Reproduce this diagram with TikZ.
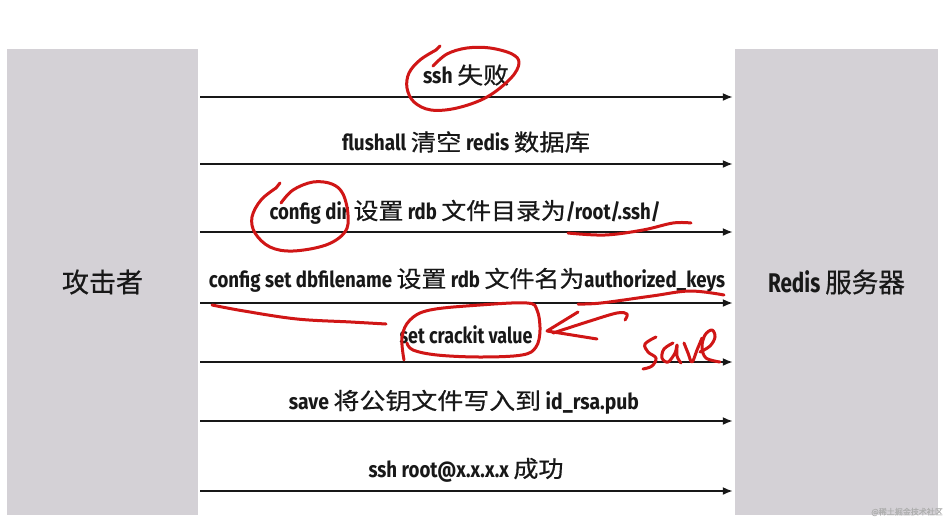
\documentclass[tikz,border=0pt]{standalone}
\usepackage{fontspec}
\usepackage{graphicx}
\setmainfont{Fira Sans}[FakeStretch=0.78]
\newfontfamily\cjk{Noto Sans CJK SC}[FakeBold=0.5]
\usetikzlibrary{arrows.meta}
\definecolor{boxgray}{RGB}{212,209,214}
\definecolor{annred}{RGB}{208,22,22}
\definecolor{inkblack}{RGB}{24,24,24}
\definecolor{wmgray}{RGB}{175,175,175}
\newcommand\zh[1]{{\cjk\mdseries\fontsize{23}{26}\selectfont #1}}
\newcommand\zhbig[1]{{\cjk\mdseries\fontsize{27}{30}\selectfont #1}}
\newcommand\fitw[2]{\resizebox{#1pt}{\height}{#2}}
\tikzset{
  side/.style={fill=boxgray,draw=none,inner sep=0pt,minimum height=466pt,text=inkblack},
  msg/.style={draw=inkblack,line width=1.8pt,-{Latex[length=10pt,width=8pt]},shorten <=2pt,shorten >=2pt},
  lbl/.style={inner sep=0pt,text=inkblack,font=\bfseries\fontsize{22}{26}\selectfont},
  ann/.style={draw=annred,line width=3pt,line cap=round,line join=round},
}
\begin{document}
\begin{tikzpicture}[x=1pt,y=-1pt]
\useasboundingbox (0,0) rectangle (952,520);
\fill[white] (0,0) rectangle (952,520);
% side boxes
\node[side,minimum width=191pt] (att) at (102.5,282) {\zhbig{攻击者}};
\node[side,minimum width=203pt] (srv) at (836.5,282) {\fitw{137}{{\bfseries\fontsize{27}{30}\selectfont Redis }\zhbig{服务器}}};
% message labels
\node[lbl] (l1) at (466,75)  {\fitw{86}{ssh \zh{失败}}};
\node[lbl] (l2) at (466,142) {\fitw{248}{flushall \zh{清空} redis \zh{数据库}}};
\node[lbl] (l3) at (465,212) {\fitw{391}{config dir \zh{设置} rdb \zh{文件目录为}/root/.ssh/}};
\node[lbl] (l4) at (467,280) {\fitw{516}{config set dbfilename \zh{设置} rdb \zh{文件名为}authorized\_keys}};
\node[lbl] (l5) at (466,335) {\fitw{133}{set crackit value}};
\node[lbl] (l6) at (464,402) {\fitw{350}{save \zh{将公钥文件写入到} id\_rsa.pub}};
\node[lbl] (l7) at (466,470) {\fitw{195}{ssh root@x.x.x.x \zh{成功}}};
% arrows
\draw[msg] (att.east |- 0,97)  -- (srv.west |- 0,97);
\draw[msg] (att.east |- 0,164) -- (srv.west |- 0,164);
\draw[msg] (att.east |- 0,232) -- (srv.west |- 0,232);
\draw[msg] (att.east |- 0,303) -- (srv.west |- 0,303);
\draw[msg] (att.east |- 0,362) -- (srv.west |- 0,362);
\draw[msg] (att.east |- 0,421) -- (srv.west |- 0,421);
\draw[msg] (att.east |- 0,491) -- (srv.west |- 0,491);
% watermark
\node[inner sep=0pt,text=wmgray,anchor=east] (wm) at (943,512) {{\cjk\fontsize{8}{9}\selectfont @稀土掘金技术社区}};
% red annotations
\draw[ann] plot[smooth,tension=0.6] coordinates {(436,50) (420,60) (409,73) (407,88) (414,102) (431,110) (457,108) (487,97) (511,78) (519,63) (512,54) (490,48) (467,48) (447,54) (433,66)};
\draw[ann] (436,50) -- (440,46);
\draw[ann] plot[smooth,tension=0.6] coordinates {(276,188) (261,200) (252,217) (255,233) (270,247) (293,251) (326,245) (345,232) (348,215) (343,194) (332,184) (313,182) (293,190) (281,203)};
\draw[ann] (276,188) -- (280,183);
\draw[ann] plot[smooth,tension=0.6] coordinates {(568,233) (605,235) (643,230) (673,223) (691,223)};
\draw[ann] plot[smooth,tension=0.6] coordinates {(212,305) (244,311) (297,319) (351,322) (386,324)};
\draw[ann] plot[smooth,tension=0.6] coordinates {(578,304) (601,303) (652,296) (690,291) (724,295)};
\draw[ann] plot[smooth,tension=0.6] coordinates {(404,360) (402,337) (410,320) (430,310) (480,305) (527,303) (537,310) (540,330) (536,347) (522,355) (480,357) (437,355) (413,350) (407,343)};
\draw[ann] (578,312) -- (547,331) -- (597,339);
\draw[ann] plot[smooth,tension=0.6] coordinates {(553,333) (590,321) (617,313) (627,314) (625,320)};
% handwritten "save"
\draw[ann] plot[smooth,tension=0.6] coordinates {(656,337) (645,344) (648,352) (656,358) (652,366) (643,369)};
\draw[ann] plot[smooth,tension=0.6] coordinates {(673,343) (664,349) (662,358) (668,362) (675,353) (677,345) (677,356) (681,363)};
\draw[ann] plot[smooth,tension=0.6] coordinates {(684,343) (688,353) (692,362) (697,350) (702,338)};
\draw[ann] plot[smooth,tension=0.6] coordinates {(700,352) (710,346) (715,337) (712,330) (705,335) (702,347) (706,358) (720,362)};
\end{tikzpicture}
\end{document}
